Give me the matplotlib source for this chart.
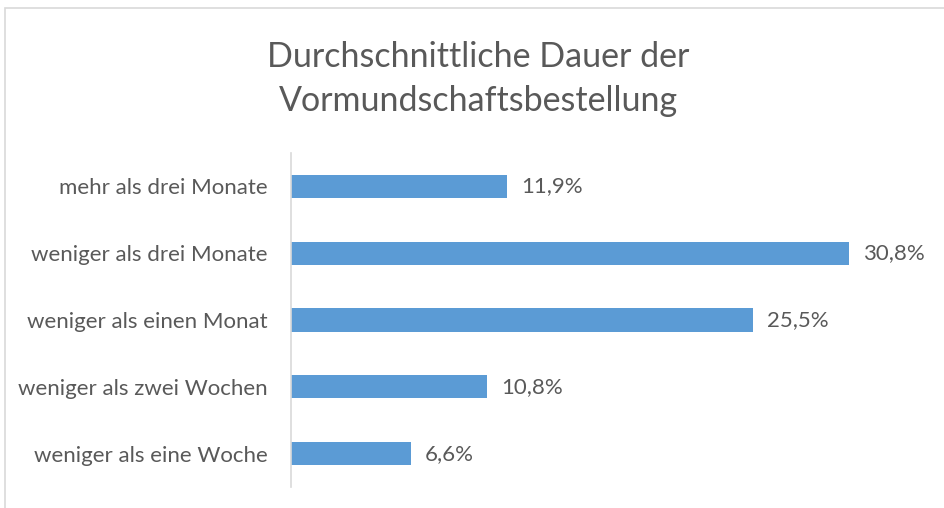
import matplotlib.pyplot as plt
from matplotlib.patches import Rectangle

categories = [
    "weniger als eine Woche",
    "weniger als zwei Wochen",
    "weniger als einen Monat",
    "weniger als drei Monate",
    "mehr als drei Monate",
]
values = [6.6, 10.8, 25.5, 30.8, 11.9]
title = "Durchschnittliche Dauer der\nVormundschaftsbestellung"

text_color = "#595959"
bar_color = "#5B9BD5"

plt.rcParams["font.family"] = ["Lato", "DejaVu Sans"]

fig = plt.figure(figsize=(9.45, 5.08), dpi=100)
W, H = 945, 508
ax = fig.add_axes([291 / W, 1 - 487 / H, (925 - 291) / W, (487 - 153) / H])

pos = list(range(len(categories)))
ax.barh(pos, values, height=0.35, color=bar_color)
for p, v in zip(pos, values):
    ax.text(v + 0.8, p, f"{v:.1f}%".replace(".", ","), va="center", ha="left",
            fontsize=16, color=text_color)

ax.set_xlim(0, 35)
ax.set_ylim(-0.5, len(categories) - 0.5)
ax.set_yticks(pos)
ax.set_yticklabels(categories, fontsize=16, color=text_color)
ax.tick_params(axis="y", length=0, pad=17)
ax.set_xticks([])
for s in ("top", "right", "bottom"):
    ax.spines[s].set_visible(False)
ax.spines["left"].set_color("#d9d9d9")
ax.spines["left"].set_linewidth(1.2)

fig.text(478 / W, 1 - 79 / H, title, ha="center", va="center", fontsize=24.5,
         color=text_color, linespacing=1.45)

# chart frame (cut off at right/bottom)
fig.patches.append(Rectangle((5 / W, -0.1), 1.1, 1 - 8 / H + 0.1,
                             transform=fig.transFigure, fill=False,
                             edgecolor="#d9d9d9", linewidth=1.2))

fig.savefig("out.png", dpi=100)
